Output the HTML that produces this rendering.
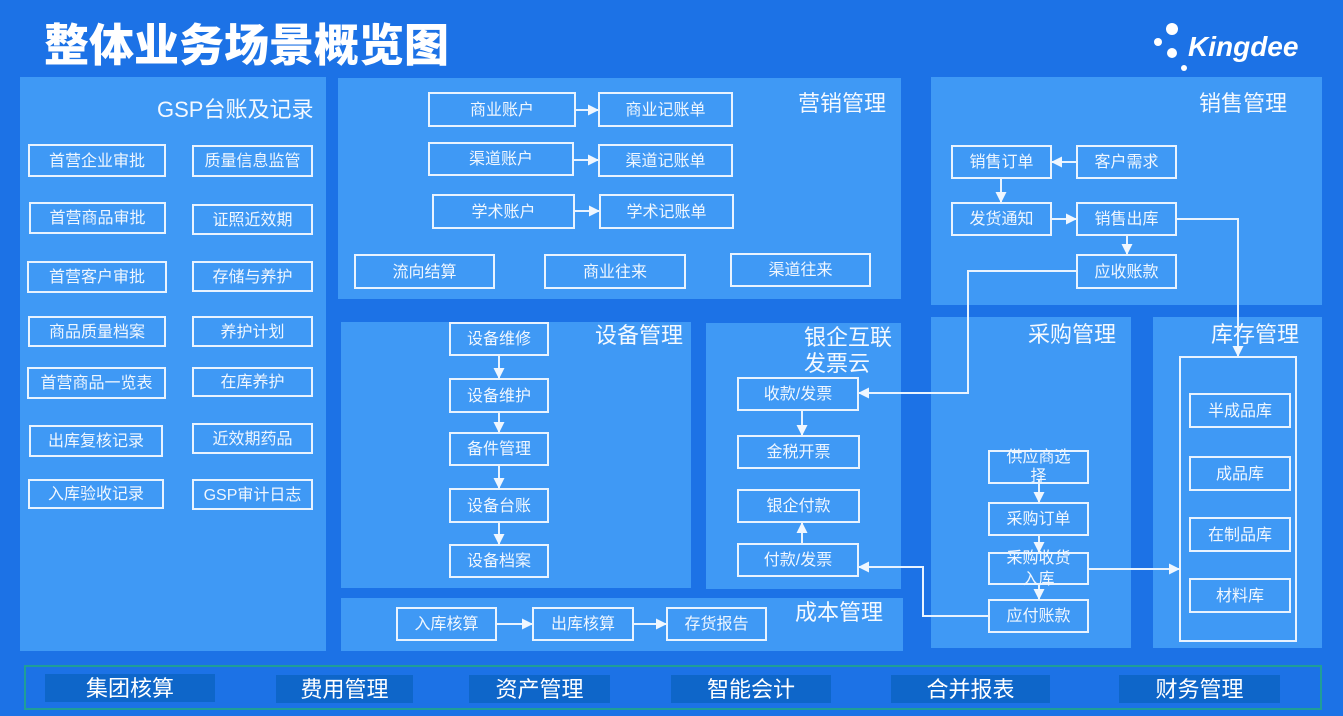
<!DOCTYPE html>
<html><head><meta charset="utf-8">
<style>
*{margin:0;padding:0;box-sizing:border-box}
html,body{width:1343px;height:716px;overflow:hidden;background:#1c72e6}
body{position:relative;font-family:"Liberation Sans","Noto Sans CJK SC",sans-serif;color:#fff}
.p{position:absolute;background:#3f99f5}
.b{position:absolute;border:2px solid #e8f3ff;display:flex;align-items:center;justify-content:center;font-size:16px;color:#f0f7ff;white-space:nowrap;line-height:1;padding-top:2px;text-align:center}
.t{position:absolute;font-size:22px;line-height:22px;color:#f4f9ff;white-space:nowrap}
.bi{position:absolute;background:#0e66c9;display:flex;align-items:center;justify-content:center;font-size:22px;color:#fff;line-height:1;padding-top:2px}
svg{position:absolute;left:0;top:0}
</style></head><body>

<div style="position:absolute;left:44px;top:19px;font-size:45px;line-height:46px;font-weight:900;color:#fff;font-family:'Noto Sans CJK SC',sans-serif">整体业务场景概览图</div>

<svg width="1343" height="716" style="z-index:1">
<circle cx="1172" cy="29" r="6" fill="#fff"/>
<circle cx="1158" cy="42" r="4" fill="#fff"/>
<circle cx="1172" cy="53" r="5" fill="#fff"/>
<circle cx="1184" cy="68" r="3" fill="#fff"/>
<text x="1188" y="56" font-family="Liberation Sans" font-weight="bold" font-style="italic" font-size="28" fill="#fff">Kingdee</text>
</svg>

<!-- panels -->
<div class="p" style="left:20px;top:77px;width:306px;height:574px"></div>
<div class="p" style="left:338px;top:78px;width:563px;height:221px"></div>
<div class="p" style="left:931px;top:77px;width:391px;height:228px"></div>
<div class="p" style="left:341px;top:322px;width:350px;height:266px"></div>
<div class="p" style="left:341px;top:598px;width:562px;height:53px"></div>
<div class="p" style="left:706px;top:323px;width:195px;height:266px"></div>
<div class="p" style="left:931px;top:317px;width:200px;height:331px"></div>
<div class="p" style="left:1153px;top:317px;width:169px;height:331px"></div>

<!-- titles -->
<div class="t" style="left:157px;top:99px">GSP台账及记录</div>
<div class="t" style="left:798px;top:93px">营销管理</div>
<div class="t" style="left:1199px;top:93px">销售管理</div>
<div class="t" style="left:595px;top:325px">设备管理</div>
<div class="t" style="left:804px;top:327px">银企互联</div>
<div class="t" style="left:804px;top:353px">发票云</div>
<div class="t" style="left:1028px;top:324px">采购管理</div>
<div class="t" style="left:1211px;top:324px">库存管理</div>
<div class="t" style="left:795px;top:602px">成本管理</div>

<!-- GSP boxes -->
<div class="b" style="left:28px;top:144px;width:138px;height:33px">首营企业审批</div>
<div class="b" style="left:192px;top:145px;width:121px;height:32px">质量信息监管</div>
<div class="b" style="left:29px;top:202px;width:137px;height:32px">首营商品审批</div>
<div class="b" style="left:192px;top:204px;width:121px;height:31px">证照近效期</div>
<div class="b" style="left:27px;top:261px;width:140px;height:32px">首营客户审批</div>
<div class="b" style="left:192px;top:261px;width:121px;height:31px">存储与养护</div>
<div class="b" style="left:28px;top:316px;width:138px;height:31px">商品质量档案</div>
<div class="b" style="left:192px;top:316px;width:121px;height:31px">养护计划</div>
<div class="b" style="left:27px;top:367px;width:139px;height:32px">首营商品一览表</div>
<div class="b" style="left:192px;top:367px;width:121px;height:30px">在库养护</div>
<div class="b" style="left:29px;top:425px;width:134px;height:32px">出库复核记录</div>
<div class="b" style="left:192px;top:423px;width:121px;height:31px">近效期药品</div>
<div class="b" style="left:28px;top:479px;width:136px;height:30px">入库验收记录</div>
<div class="b" style="left:192px;top:479px;width:121px;height:31px">GSP审计日志</div>

<!-- Marketing -->
<div class="b" style="left:428px;top:92px;width:148px;height:35px">商业账户</div>
<div class="b" style="left:598px;top:92px;width:135px;height:35px">商业记账单</div>
<div class="b" style="left:428px;top:142px;width:146px;height:34px">渠道账户</div>
<div class="b" style="left:598px;top:144px;width:135px;height:33px">渠道记账单</div>
<div class="b" style="left:432px;top:194px;width:143px;height:35px">学术账户</div>
<div class="b" style="left:599px;top:194px;width:135px;height:35px">学术记账单</div>
<div class="b" style="left:354px;top:254px;width:141px;height:35px">流向结算</div>
<div class="b" style="left:544px;top:254px;width:142px;height:35px">商业往来</div>
<div class="b" style="left:730px;top:253px;width:141px;height:34px">渠道往来</div>

<!-- Sales -->
<div class="b" style="left:951px;top:145px;width:101px;height:34px">销售订单</div>
<div class="b" style="left:1076px;top:145px;width:101px;height:34px">客户需求</div>
<div class="b" style="left:951px;top:202px;width:101px;height:34px">发货通知</div>
<div class="b" style="left:1076px;top:202px;width:101px;height:34px">销售出库</div>
<div class="b" style="left:1076px;top:254px;width:101px;height:35px">应收账款</div>

<!-- Equipment -->
<div class="b" style="left:449px;top:322px;width:100px;height:34px">设备维修</div>
<div class="b" style="left:449px;top:378px;width:100px;height:35px">设备维护</div>
<div class="b" style="left:449px;top:432px;width:100px;height:34px">备件管理</div>
<div class="b" style="left:449px;top:488px;width:100px;height:35px">设备台账</div>
<div class="b" style="left:449px;top:544px;width:100px;height:34px">设备档案</div>

<!-- Cost -->
<div class="b" style="left:396px;top:607px;width:101px;height:34px">入库核算</div>
<div class="b" style="left:532px;top:607px;width:102px;height:34px">出库核算</div>
<div class="b" style="left:666px;top:607px;width:101px;height:34px">存货报告</div>

<!-- Bank -->
<div class="b" style="left:737px;top:377px;width:122px;height:34px">收款/发票</div>
<div class="b" style="left:737px;top:435px;width:123px;height:34px">金税开票</div>
<div class="b" style="left:737px;top:489px;width:123px;height:34px">银企付款</div>
<div class="b" style="left:737px;top:543px;width:122px;height:34px">付款/发票</div>

<!-- Purchase -->
<div class="b" style="left:988px;top:450px;width:101px;height:34px;line-height:19px;padding-top:0"><div style="text-align:center;width:100%">供应商选<br>择</div></div>
<div class="b" style="left:988px;top:502px;width:101px;height:34px">采购订单</div>
<div class="b" style="left:988px;top:552px;width:101px;height:33px;line-height:21px;padding-top:1px"><div style="text-align:center;width:100%">采购收货<br>入库</div></div>
<div class="b" style="left:988px;top:599px;width:101px;height:34px">应付账款</div>

<!-- Inventory -->
<div class="b" style="left:1179px;top:356px;width:118px;height:286px"></div>
<div class="b" style="left:1189px;top:393px;width:102px;height:35px">半成品库</div>
<div class="b" style="left:1189px;top:456px;width:102px;height:35px">成品库</div>
<div class="b" style="left:1189px;top:517px;width:102px;height:35px">在制品库</div>
<div class="b" style="left:1189px;top:578px;width:102px;height:35px">材料库</div>

<!-- bottom bar -->
<div style="position:absolute;left:24px;top:665px;width:1298px;height:45px;border:2px solid #1f9e98"></div>
<div class="bi" style="left:45px;top:674px;width:170px;height:28px">集团核算</div>
<div class="bi" style="left:276px;top:675px;width:137px;height:28px">费用管理</div>
<div class="bi" style="left:469px;top:675px;width:141px;height:28px">资产管理</div>
<div class="bi" style="left:671px;top:675px;width:160px;height:28px">智能会计</div>
<div class="bi" style="left:891px;top:675px;width:159px;height:28px">合并报表</div>
<div class="bi" style="left:1119px;top:675px;width:161px;height:28px">财务管理</div>

<!-- connectors -->
<svg width="1343" height="716" style="z-index:2;pointer-events:none">
<defs>
<marker id="a" markerUnits="userSpaceOnUse" markerWidth="11" markerHeight="11" refX="10" refY="5.5" orient="auto">
<path d="M0,0 L11,5.5 L0,11 z" fill="#f0f7ff"/>
</marker>
</defs>
<g stroke="#e8f3ff" stroke-width="2" fill="none" marker-end="url(#a)">
<line x1="576" y1="110" x2="598" y2="110"/>
<line x1="574" y1="160" x2="598" y2="160"/>
<line x1="575" y1="211" x2="599" y2="211"/>
<line x1="1076" y1="162" x2="1052" y2="162"/>
<line x1="1001" y1="179" x2="1001" y2="202"/>
<line x1="1052" y1="219" x2="1076" y2="219"/>
<line x1="1127" y1="236" x2="1127" y2="254"/>
<polyline points="1177,219 1238,219 1238,356"/>
<polyline points="1076,271 968,271 968,393 859,393"/>
<line x1="499" y1="356" x2="499" y2="378"/>
<line x1="499" y1="413" x2="499" y2="432"/>
<line x1="499" y1="466" x2="499" y2="488"/>
<line x1="499" y1="523" x2="499" y2="544"/>
<line x1="497" y1="624" x2="532" y2="624"/>
<line x1="634" y1="624" x2="666" y2="624"/>
<line x1="802" y1="411" x2="802" y2="435"/>
<line x1="802" y1="543" x2="802" y2="523"/>
<line x1="1039" y1="480" x2="1039" y2="502"/>
<line x1="1039" y1="534" x2="1039" y2="552"/>
<line x1="1039" y1="583" x2="1039" y2="599"/>
<polyline points="988,616 923,616 923,567 859,567"/>
<line x1="1089" y1="569" x2="1179" y2="569"/>
</g>
</svg>
</body></html>
